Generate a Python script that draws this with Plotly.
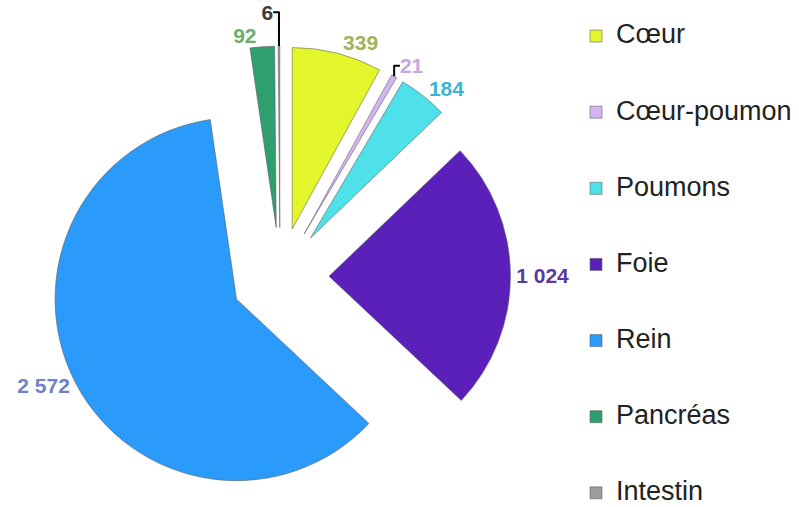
import plotly.graph_objects as go

labels = ["Cœur", "Cœur-poumon", "Poumons", "Foie", "Rein", "Pancréas", "Intestin"]
values = [339, 21, 184, 1024, 2572, 92, 6]
colors = ["#e3f52b", "#d6b3f2", "#4fe1ea", "#5a20b9", "#2b9bfb", "#2f9f70", "#9c9c9c"]
label_colors = ["#a3b05c", "#c7a6dd", "#3db4cf", "#5b3aa2", "#6d82c8", "#68b06c", "#3a3a3a"]

legend_names = ["<br><span style='font-size:27px'>%s</span><br>" % l for l in labels]

W, H = 799, 507

fig = go.Figure(
    go.Pie(
        labels=legend_names,
        values=values,
        sort=False,
        direction="clockwise",
        rotation=0,
        pull=[0.27] * len(values),
        marker=dict(colors=colors, line=dict(color="rgba(90,90,90,0.55)", width=1)),
        textposition="outside",
        texttemplate="%{value:,}",
        textfont=dict(family="Liberation Sans", size=21, color=label_colors, weight="bold"),
        domain=dict(x=[49.5 / W, 510.5 / W], y=[0, 1 - 46 / H]),
        hoverinfo="skip",
    )
)

fig.update_layout(
    width=W,
    height=H,
    separators=", ",
    paper_bgcolor="white",
    plot_bgcolor="white",
    margin=dict(l=0, r=0, t=0, b=0, autoexpand=False),
    showlegend=True,
    legend=dict(
        x=576 / W,
        xanchor="left",
        y=1 - 264.5 / H,
        yanchor="middle",
        font=dict(family="Liberation Sans", size=18.75, color="#222222"),
        maxheight=600,
        bgcolor="rgba(0,0,0,0)",
    ),
)

fig.write_html("out.html")
